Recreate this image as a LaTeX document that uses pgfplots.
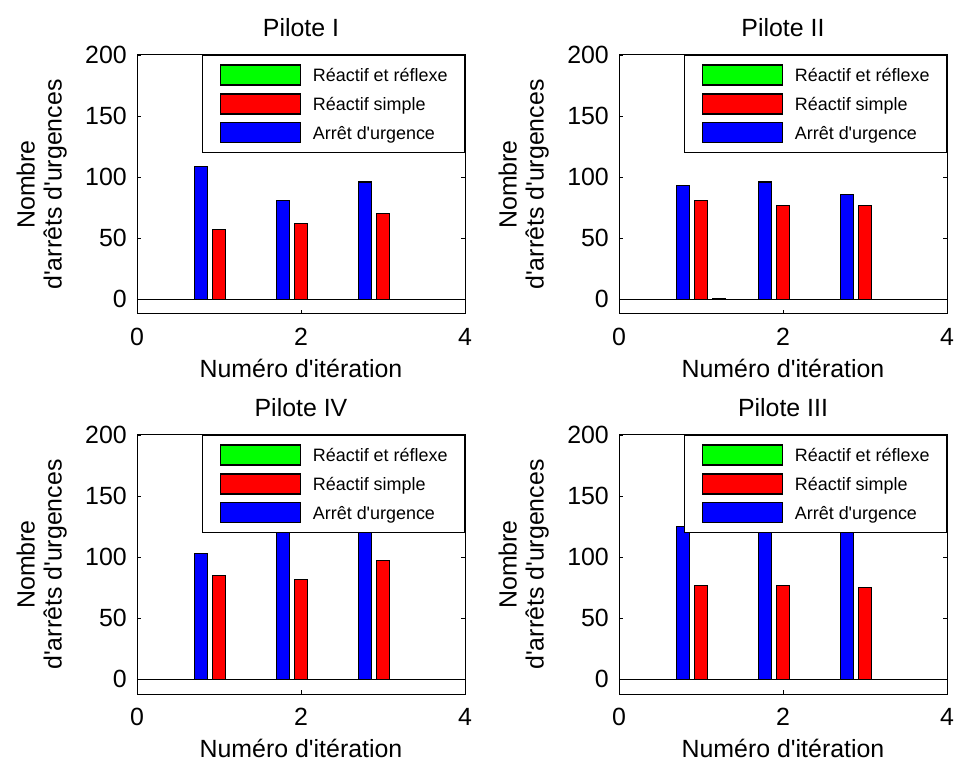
\documentclass[border=0pt]{standalone}
\usepackage{pgfplots}
\pgfplotsset{compat=1.18}
\usepackage{fontspec}
\setmainfont{Liberation Sans}[Ligatures=TeXOff]

\definecolor{cblue}{RGB}{0,0,255}
\definecolor{cred}{RGB}{255,0,0}
\definecolor{cgreen}{RGB}{0,255,0}

\pgfplotsset{
  pilote/.style={
    scale only axis,
    width=328bp, height=259bp,
    anchor=south west,
    xmin=0, xmax=4, ymin=-12, ymax=200,
    xtick={0,2,4}, ytick={0,50,100,150,200},
    tick align=inside,
    major tick length=4bp,
    every tick/.style={black, line width=0.8bp},
    axis line style={line width=1bp},
    /pgf/number format/assume math mode=true,
    tick label style={font=\fontsize{25}{27}\selectfont},
    xticklabel style={inner sep=0pt, yshift=-14bp},
    yticklabel style={inner sep=0pt, xshift=-10bp},
    title style={font=\fontsize{25}{27}\selectfont, at={(axis description cs:0.5,1)},
                 anchor=base, inner sep=0pt, yshift=13bp},
    xlabel={Numéro d'itération},
    xlabel style={font=\fontsize{25}{27}\selectfont, at={(axis description cs:0.5,0)},
                  anchor=north, inner sep=0pt, yshift=-45bp},
    ylabel={Nombre\\d'arrêts d'urgences},
    ylabel style={font=\fontsize{25}{27}\selectfont, align=center,
                  at={(axis description cs:0,0.5)}, anchor=south, inner sep=0pt, yshift=70bp},
    legend image code/.code={\draw[##1, line width=1.2bp] (0bp,-9bp) rectangle (80bp,11bp);},
    reverse legend,
    legend style={at={(1,1)}, anchor=north east, draw=black, line width=1bp, fill=white,
                  font=\fontsize{18}{20}\selectfont,
                  inner xsep=17bp, inner ysep=9bp, row sep=7.7bp, column sep=12bp,
                  nodes={inner sep=0pt, text depth=0.2em}, cells={anchor=west}},
  },
  blues/.style={ybar, bar width=0.16, bar shift=-0.2222, fill=cblue, draw=black, line width=1.2bp},
  reds/.style={ybar, bar width=0.16, bar shift=0, fill=cred, draw=black, line width=1.2bp},
  greens/.style={ybar, bar width=0.16, bar shift=0.2222, fill=cgreen, draw=black, line width=1.2bp},
  baseline/.style={black, line width=1bp, forget plot},
}

\begin{document}
\begin{tikzpicture}
\path[use as bounding box] (0,0) rectangle (955bp,763bp);

% Pilote I
\begin{axis}[pilote, at={(137bp,449bp)}, title={Pilote I}]
  \addplot[blues]  coordinates {(1,109) (2,81) (3,96)};
  \addplot[reds]   coordinates {(1,57) (2,62) (3,70)};
  \addplot[greens] coordinates {(1,0) (2,0) (3,0)};
  \addplot[baseline] coordinates {(0,0) (4,0)};
  \legend{Arrêt d'urgence, Réactif simple, Réactif et réflexe}
\end{axis}

% Pilote II
\begin{axis}[pilote, at={(619bp,449bp)}, title={Pilote II}]
  \addplot[blues]  coordinates {(1,93) (2,96) (3,86)};
  \addplot[reds]   coordinates {(1,81) (2,77) (3,77)};
  \addplot[greens] coordinates {(1,1) (2,0) (3,0)};
  \addplot[baseline] coordinates {(0,0) (4,0)};
  \legend{Arrêt d'urgence, Réactif simple, Réactif et réflexe}
\end{axis}

% Pilote IV
\begin{axis}[pilote, at={(137bp,69bp)}, title={Pilote IV}]
  \addplot[blues]  coordinates {(1,103) (2,140) (3,135)};
  \addplot[reds]   coordinates {(1,85) (2,82) (3,97)};
  \addplot[greens] coordinates {(1,0) (2,0) (3,0)};
  \addplot[baseline] coordinates {(0,0) (4,0)};
  \legend{Arrêt d'urgence, Réactif simple, Réactif et réflexe}
\end{axis}

% Pilote III
\begin{axis}[pilote, at={(619bp,69bp)}, title={Pilote III}]
  \addplot[blues]  coordinates {(1,125) (2,135) (3,140)};
  \addplot[reds]   coordinates {(1,77) (2,77) (3,75)};
  \addplot[greens] coordinates {(1,0) (2,0) (3,0)};
  \addplot[baseline] coordinates {(0,0) (4,0)};
  \legend{Arrêt d'urgence, Réactif simple, Réactif et réflexe}
\end{axis}
\end{tikzpicture}
\end{document}
